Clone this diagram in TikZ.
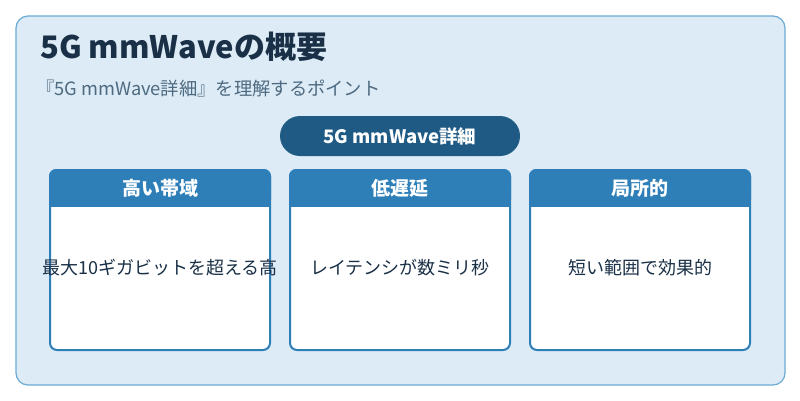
\documentclass[tikz,border=0pt]{standalone}
\usepackage{fontspec}
\setmainfont{Noto Sans CJK JP}
\definecolor{bgc}{HTML}{DCEBF6}
\definecolor{bdc}{HTML}{6AAAD5}
\definecolor{navy}{HTML}{1A3047}
\definecolor{subc}{HTML}{4E6A80}
\definecolor{pill}{HTML}{1F5A85}
\definecolor{hdr}{HTML}{2E7FB8}
\begin{document}
\begin{tikzpicture}[x=1pt,y=-1pt,
  card/.style={draw=hdr,line width=2pt,fill=white,rounded corners=7pt},
  hdrtext/.style={text=white,font=\fontsize{19}{22}\selectfont\bfseries},
  bodytext/.style={text=navy,font=\fontsize{18}{21}\selectfont}]
\useasboundingbox (0,0) rectangle (800,400);
\fill[white] (0,0) rectangle (800,400);
\draw[bdc,fill=bgc,line width=1.2pt,rounded corners=12pt] (16,16) rectangle (785,385);
\node[anchor=west,inner sep=0pt,text=navy,font=\fontsize{31}{35}\selectfont\bfseries] (title) at (40,47) {5G mmWaveの概要};
\node[anchor=west,inner sep=0pt,text=subc,font=\fontsize{18.3}{21}\selectfont] (sub) at (36,89) {『5G mmWave詳細』を理解するポイント};
\node[fill=pill,rounded corners=20pt,minimum width=240pt,minimum height=40pt,text=white,font=\fontsize{18.5}{21}\selectfont\bfseries] (pill) at (400,136) {5G mmWave詳細};
\foreach \x/\h/\b/\n in {50/高い帯域/最大10ギガビットを超える高/a,290/低遅延/レイテンシが数ミリ秒/b,530/局所的/短い範囲で効果的/c}{
  \draw[card] (\x,170) rectangle ++(220,180);
  \fill[hdr,rounded corners=7pt] (\x-1,169) rectangle ++(222,37);
  \fill[hdr] (\x-1,190) rectangle ++(222,17);
  \node[hdrtext] (h\n) at (\x+110,188) {\h};
  \node[bodytext] (t\n) at (\x+110,268) {\b};
}
\end{tikzpicture}
\end{document}
